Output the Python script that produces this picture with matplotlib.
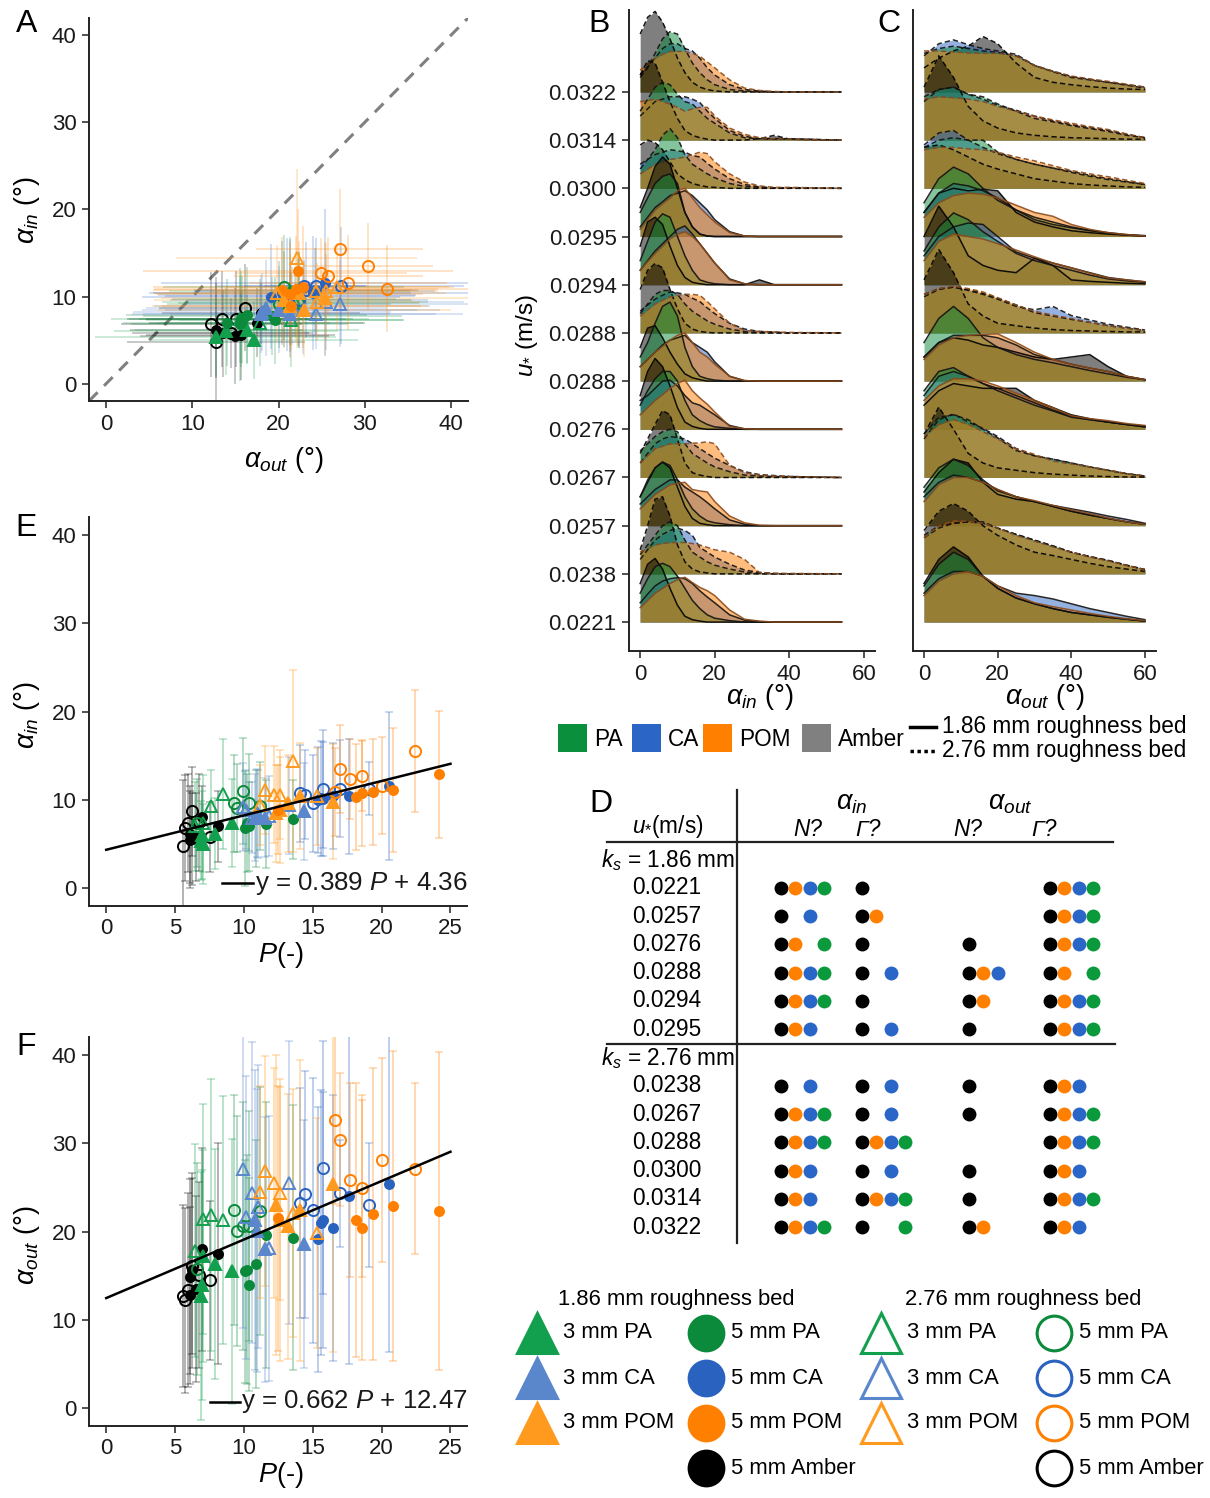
import numpy as np
import matplotlib.pyplot as plt
from matplotlib.patches import Rectangle

plt.rcParams['font.family'] = ['Liberation Sans', 'DejaVu Sans']
plt.rcParams['mathtext.fontset'] = 'custom'
plt.rcParams['mathtext.rm'] = 'Liberation Sans'
plt.rcParams['mathtext.it'] = 'Liberation Sans:italic'
plt.rcParams['mathtext.bf'] = 'Liberation Sans:bold'

# ─── Scatter data (per particle / bed) ───────────────────────────────────────
AMBER5_186 = dict(P=[6.05, 6.2, 6.5, 6.1, 6.95, 8.1],
                  ain=[6.1, 5.6, 5.8, 5.5, 8.1, 7.0], ain_sd=[5.5, 5.2, 5.0, 5.5, 3.5, 4.0],
                  aout=[12.8, 15.6, 13.5, 14.9, 18.0, 17.5], aout_sd=[10, 11, 10.5, 11, 11.5, 12.5])
AMBER5_276 = dict(P=[5.56, 5.73, 5.95, 6.24, 6.72, 7.55],
                  ain=[4.8, 6.8, 7.4, 8.7, 7.45, 5.8], ain_sd=[7.5, 6.0, 5.5, 5.0, 5.5, 4.0],
                  aout=[12.75, 12.2, 13.4, 16.1, 15.1, 14.5], aout_sd=[10.3, 10.5, 11, 10, 10.5, 9])
PA3_186 = dict(P=[6.9, 6.95, 7.0, 7.9, 9.15],
               ain=[5.4, 6.0, 5.0, 6.2, 7.4], ain_sd=[4.5, 5.0, 4.5, 4.0, 5.0],
               aout=[12.7, 13.9, 17.2, 16.3, 15.5], aout_sd=[14, 13, 12, 13, 15])
PA5_186 = dict(P=[10.1, 10.2, 10.35, 10.9, 11.6, 13.6],
               ain=[6.8, 7.4, 7.0, 7.9, 7.3, 7.8], ain_sd=[6.5, 5.5, 5.0, 5.5, 5.0, 4.5],
               aout=[15.5, 15.7, 14.0, 16.3, 19.6, 19.3], aout_sd=[12.6, 13, 12, 14, 15, 15])
PA3_276 = dict(P=[6.45, 7.0, 7.6, 8.5],
               ain=[7.0, 7.35, 9.35, 10.65], ain_sd=[5.0, 5.5, 4.0, 6.2],
               aout=[17.85, 21.4, 21.9, 21.3], aout_sd=[12, 13, 15.4, 14])
PA5_276 = dict(P=[6.6, 9.3, 9.5, 9.95, 10.35, 11.2],
               ain=[7.4, 9.6, 9.1, 11.05, 9.7, 9.3], ain_sd=[5.0, 5.5, 5.0, 6.0, 5.5, 5.0],
               aout=[15.8, 22.4, 20.1, 20.6, 20.6, 22.3], aout_sd=[12, 13, 13, 14, 13, 14])
CA3_186 = dict(P=[10.8, 10.95, 11.5, 14.35],
               ain=[8.0, 8.5, 8.0, 8.7], ain_sd=[4.9, 5.0, 4.5, 5.5],
               aout=[21.3, 20.1, 18.0, 18.6], aout_sd=[17, 16, 15, 14])
CA5_186 = dict(P=[15.4, 15.6, 15.75, 16.5, 17.65, 20.5],
               ain=[10.0, 10.2, 10.1, 10.4, 10.4, 11.6], ain_sd=[6.0, 6.5, 6.5, 6.0, 6.5, 8.4],
               aout=[19.1, 21.0, 21.3, 20.4, 24.0, 25.4], aout_sd=[15, 15, 14.5, 15, 19, 19])
CA3_276 = dict(P=[9.9, 10.15, 10.6, 11.0, 11.85, 13.3],
               ain=[9.2, 8.9, 8.0, 8.4, 8.2, 9.4], ain_sd=[5.0, 4.5, 4.0, 5.0, 4.5, 5.5],
               aout=[27.1, 21.6, 24.4, 22.8, 18.1, 25.5], aout_sd=[18, 16, 17, 16, 15, 16])
CA5_276 = dict(P=[14.05, 14.45, 15.05, 15.75, 16.95, 19.05],
               ain=[10.75, 10.6, 9.6, 11.25, 11.25, 11.25], ain_sd=[5.5, 5.0, 5.5, 6.7, 5.5, 3.0],
               aout=[23.2, 24.2, 22.4, 27.2, 24.3, 23.0], aout_sd=[13, 14, 15, 14.3, 6, 7])
POM3_186 = dict(P=[12.3, 12.6, 13.2, 14.1, 16.45],
                ain=[8.5, 8.9, 9.6, 10.4, 9.8], ain_sd=[5.5, 6.0, 5.5, 6.0, 6.5],
                aout=[23.0, 21.3, 20.6, 22.4, 25.4], aout_sd=[17, 16, 15, 17, 19])
POM5_186 = dict(P=[12.5, 18.15, 18.55, 19.4, 20.8, 24.2],
                ain=[8.9, 10.3, 10.8, 10.9, 11.1, 12.9], ain_sd=[5.0, 6.0, 6.0, 6.0, 7.0, 7.2],
                aout=[21.5, 21.3, 20.45, 22.0, 22.9, 22.3], aout_sd=[15, 15.5, 15, 16.5, 17.5, 18])
POM3_276 = dict(P=[11.2, 11.55, 12.15, 12.6, 13.55, 15.3],
                ain=[9.4, 11.1, 10.6, 10.6, 14.4, 10.4], ain_sd=[4.5, 5.0, 5.5, 5.0, 10.3, 5.5],
                aout=[24.5, 26.8, 25.5, 24.3, 22.1, 19.8], aout_sd=[12, 13, 13, 12, 14, 13])
POM5_276 = dict(P=[16.6, 16.95, 17.7, 18.55, 20.0, 22.4],
                ain=[10.9, 13.5, 12.35, 12.7, 11.6, 15.5], ain_sd=[5.0, 5.0, 4.5, 4.0, 5.5, 6.9],
                aout=[32.6, 30.4, 25.8, 24.9, 28.1, 27.1], aout_sd=[9.5, 7.5, 11, 10, 11.5, 9.7])

FIT_E = (0.389, 4.36)
FIT_F = (0.662, 12.47)

# ─── Ridge densities (height in row-spacing units) ───────────────────────────
U_LABELS = ['0.0221', '0.0238', '0.0257', '0.0267', '0.0276', '0.0288',
            '0.0288', '0.0294', '0.0295', '0.0300', '0.0314', '0.0322']
BED = ['1.86', '2.76', '1.86', '2.76', '1.86', '1.86',
       '2.76', '1.86', '1.86', '2.76', '2.76', '2.76']

B_X = [0, 2, 4, 6, 8, 10, 12, 14, 16, 18, 20, 24, 28, 32, 36, 40, 54]
B_AMBER = [
    [0.8, 1.2, 1.32, 1.1, 0.7, 0.35, 0.12, 0.05, 0.02, 0, 0, 0, 0, 0, 0, 0, 0],
    [0.5, 1.0, 1.55, 1.6, 1.2, 0.6, 0.25, 0.1, 0.04, 0.02, 0, 0, 0, 0, 0, 0, 0],
    [0.6, 0.9, 1.2, 1.32, 1.2, 0.8, 0.4, 0.15, 0.05, 0.02, 0, 0, 0, 0, 0, 0, 0],
    [0.5, 0.8, 1.1, 1.39, 1.3, 0.8, 0.3, 0.1, 0.05, 0.02, 0, 0, 0, 0, 0, 0, 0],
    [0.7, 1.2, 1.47, 1.3, 0.9, 0.45, 0.15, 0.06, 0.02, 0, 0, 0, 0, 0, 0, 0, 0],
    [0.7, 1.1, 1.15, 0.9, 0.6, 0.35, 0.15, 0.07, 0.03, 0, 0, 0, 0, 0, 0, 0, 0],
    [0.9, 1.3, 1.44, 1.35, 0.9, 0.5, 0.2, 0.08, 0.03, 0.01, 0, 0, 0, 0, 0, 0, 0],
    [0.8, 1.3, 1.4, 1.25, 0.8, 0.4, 0.15, 0.05, 0.02, 0, 0, 0, 0, 0.1, 0, 0, 0],
    [0.6, 1.0, 1.45, 1.65, 1.5, 1.0, 0.5, 0.2, 0.05, 0.01, 0, 0, 0, 0, 0, 0, 0],
    [0.9, 1.0, 0.95, 0.8, 0.55, 0.3, 0.18, 0.1, 0.06, 0.03, 0.02, 0, 0, 0, 0, 0, 0],
    [1.35, 1.65, 1.6, 1.2, 0.8, 0.45, 0.2, 0.1, 0.05, 0.02, 0, 0, 0, 0.03, 0.1, 0.02, 0],
    [1.2, 1.55, 1.67, 1.45, 1.1, 0.7, 0.4, 0.2, 0.1, 0.05, 0.02, 0, 0, 0, 0, 0, 0],
]
B_PA = [
    [0.6, 0.9, 1.15, 1.22, 1.15, 0.95, 0.7, 0.45, 0.28, 0.15, 0.08, 0.03, 0, 0, 0, 0, 0],
    [0.4, 0.6, 0.8, 1.0, 1.08, 1.0, 0.7, 0.45, 0.35, 0.25, 0.18, 0.1, 0.04, 0.01, 0, 0, 0],
    [0.6, 0.95, 1.2, 1.32, 1.25, 0.95, 0.6, 0.35, 0.2, 0.1, 0.06, 0.02, 0, 0, 0, 0, 0],
    [0.55, 0.7, 0.85, 0.95, 1.0, 0.95, 0.7, 0.5, 0.4, 0.3, 0.22, 0.12, 0.05, 0.03, 0.02, 0.02, 0],
    [0.5, 0.8, 1.05, 1.2, 1.2, 1.0, 0.6, 0.3, 0.18, 0.1, 0.05, 0.02, 0, 0, 0, 0, 0],
    [0.5, 0.8, 1.2, 1.55, 1.64, 1.35, 0.7, 0.3, 0.1, 0.05, 0.02, 0, 0, 0, 0, 0, 0],
    [0.4, 0.6, 0.8, 0.88, 0.88, 0.8, 0.6, 0.45, 0.35, 0.25, 0.18, 0.08, 0.03, 0.01, 0, 0, 0],
    [0.5, 0.9, 1.3, 1.47, 1.4, 1.0, 0.6, 0.3, 0.1, 0.05, 0.02, 0, 0, 0, 0, 0, 0],
    [0.5, 0.8, 1.1, 1.25, 1.3, 1.1, 0.5, 0.2, 0.05, 0.01, 0, 0, 0, 0, 0, 0, 0],
    [0.4, 0.6, 0.8, 1.1, 1.24, 1.05, 0.7, 0.5, 0.4, 0.3, 0.22, 0.1, 0.04, 0.02, 0.01, 0.01, 0],
    [0.6, 0.85, 1.1, 1.2, 1.15, 0.95, 0.8, 0.75, 0.6, 0.45, 0.35, 0.15, 0.05, 0.03, 0.03, 0.03, 0],
    [0.3, 0.5, 0.8, 1.1, 1.25, 1.2, 0.9, 0.6, 0.4, 0.25, 0.15, 0.05, 0.02, 0, 0, 0, 0],
]
B_CA = [
    [0.4, 0.58, 0.75, 0.85, 0.9, 0.92, 0.9, 0.8, 0.65, 0.52, 0.4, 0.15, 0.04, 0.01, 0, 0, 0],
    [0.3, 0.5, 0.7, 0.82, 0.9, 0.95, 0.9, 0.8, 0.55, 0.45, 0.35, 0.2, 0.08, 0.03, 0.01, 0, 0],
    [0.45, 0.6, 0.75, 0.85, 0.95, 0.95, 0.8, 0.7, 0.6, 0.48, 0.35, 0.12, 0.03, 0, 0, 0, 0],
    [0.3, 0.5, 0.7, 0.8, 0.85, 0.83, 0.8, 0.7, 0.6, 0.5, 0.4, 0.25, 0.12, 0.06, 0.04, 0.02, 0],
    [0.6, 0.7, 0.85, 1.0, 1.02, 0.9, 0.7, 0.55, 0.5, 0.4, 0.3, 0.08, 0.01, 0, 0, 0, 0],
    [0.3, 0.45, 0.6, 0.75, 0.85, 0.9, 0.95, 0.8, 0.7, 0.6, 0.4, 0.1, 0.01, 0, 0, 0, 0],
    [0.45, 0.58, 0.7, 0.78, 0.85, 0.83, 0.8, 0.72, 0.65, 0.52, 0.4, 0.2, 0.08, 0.03, 0.02, 0, 0],
    [0.3, 0.5, 0.7, 0.85, 1.0, 1.15, 1.22, 1.05, 0.85, 0.65, 0.45, 0.12, 0.02, 0, 0, 0, 0],
    [0.2, 0.4, 0.6, 0.72, 0.85, 0.9, 0.95, 0.85, 0.7, 0.55, 0.35, 0.1, 0.01, 0, 0, 0, 0],
    [0.5, 0.6, 0.7, 0.75, 0.8, 0.78, 0.75, 0.68, 0.65, 0.52, 0.4, 0.2, 0.08, 0.03, 0.01, 0.01, 0],
    [0.5, 0.65, 0.8, 0.85, 0.9, 0.9, 0.9, 0.85, 0.78, 0.6, 0.45, 0.2, 0.08, 0.03, 0.02, 0.02, 0],
    [0.35, 0.52, 0.7, 0.9, 1.0, 1.0, 0.9, 0.85, 0.7, 0.5, 0.35, 0.15, 0.05, 0.02, 0, 0, 0],
]
B_POM = [
    [0.3, 0.45, 0.6, 0.7, 0.8, 0.88, 0.93, 0.82, 0.72, 0.65, 0.55, 0.25, 0.06, 0.02, 0, 0, 0],
    [0.45, 0.52, 0.6, 0.63, 0.65, 0.65, 0.65, 0.63, 0.6, 0.55, 0.5, 0.45, 0.3, 0.03, 0.01, 0.01, 0],
    [0.35, 0.5, 0.65, 0.75, 0.85, 0.88, 0.9, 0.75, 0.72, 0.7, 0.5, 0.2, 0.06, 0.01, 0, 0, 0],
    [0.3, 0.45, 0.6, 0.65, 0.7, 0.7, 0.7, 0.71, 0.72, 0.74, 0.7, 0.25, 0.1, 0.05, 0.03, 0.02, 0],
    [0.3, 0.45, 0.6, 0.72, 0.85, 0.95, 1.02, 0.8, 0.65, 0.52, 0.36, 0.06, 0.01, 0, 0, 0, 0],
    [0.3, 0.45, 0.6, 0.72, 0.85, 0.95, 1.0, 0.8, 0.6, 0.5, 0.35, 0.1, 0.01, 0, 0, 0, 0],
    [0.35, 0.48, 0.6, 0.68, 0.75, 0.78, 0.8, 0.8, 0.78, 0.65, 0.5, 0.2, 0.05, 0.03, 0.02, 0.01, 0],
    [0.3, 0.48, 0.65, 0.8, 0.95, 1.05, 1.1, 1.0, 0.85, 0.65, 0.45, 0.1, 0.02, 0, 0, 0, 0],
    [0.15, 0.35, 0.55, 0.68, 0.8, 0.95, 1.0, 0.8, 0.6, 0.45, 0.3, 0.08, 0.01, 0, 0, 0, 0],
    [0.3, 0.4, 0.5, 0.55, 0.6, 0.62, 0.65, 0.7, 0.75, 0.72, 0.55, 0.3, 0.13, 0.05, 0.02, 0.02, 0],
    [0.8, 0.82, 0.85, 0.8, 0.75, 0.68, 0.6, 0.65, 0.68, 0.68, 0.5, 0.25, 0.12, 0.05, 0.03, 0.02, 0],
    [0.45, 0.58, 0.7, 0.78, 0.84, 0.84, 0.84, 0.8, 0.74, 0.62, 0.5, 0.25, 0.08, 0.03, 0.01, 0, 0],
]

C_X = [0, 4, 8, 12, 16, 20, 25, 30, 35, 40, 45, 50, 55, 60]
C_AMBER = [
    [0.8, 1.3, 1.56, 1.35, 0.95, 0.7, 0.5, 0.38, 0.28, 0.2, 0.15, 0.1, 0.06, 0.02],
    [0.9, 1.3, 1.46, 1.3, 1.0, 0.8, 0.6, 0.45, 0.38, 0.3, 0.22, 0.15, 0.1, 0.05],
    [0.7, 1.1, 1.38, 1.3, 0.9, 0.65, 0.55, 0.5, 0.4, 0.3, 0.22, 0.15, 0.08, 0.03],
    [0.9, 1.46, 1.0, 0.5, 0.3, 0.2, 0.15, 0.1, 0.07, 0.05, 0.03, 0.02, 0.01, 0.01],
    [0.5, 0.8, 0.95, 0.9, 0.85, 0.85, 0.85, 0.6, 0.45, 0.3, 0.22, 0.15, 0.1, 0.05],
    [0.5, 0.8, 0.9, 0.85, 0.75, 0.7, 0.6, 0.5, 0.45, 0.5, 0.55, 0.3, 0.1, 0.03],
    [1.1, 1.73, 1.25, 0.6, 0.35, 0.2, 0.15, 0.1, 0.07, 0.05, 0.04, 0.03, 0.02, 0.02],
    [1.0, 1.63, 1.2, 0.6, 0.4, 0.3, 0.25, 0.55, 0.4, 0.1, 0.07, 0.05, 0.03, 0.02],
    [0.5, 0.9, 1.0, 0.95, 0.98, 0.95, 0.5, 0.3, 0.2, 0.12, 0.08, 0.05, 0.03, 0.01],
    [0.85, 0.9, 0.8, 0.65, 0.5, 0.4, 0.3, 0.2, 0.15, 0.1, 0.07, 0.05, 0.03, 0.02],
    [1.1, 1.75, 1.3, 0.7, 0.4, 0.25, 0.15, 0.1, 0.07, 0.05, 0.04, 0.03, 0.02, 0.02],
    [0.5, 0.7, 0.85, 0.95, 1.15, 1.0, 0.6, 0.3, 0.2, 0.15, 0.11, 0.08, 0.06, 0.05],
]
C_PA = [
    [0.75, 1.2, 1.45, 1.3, 0.95, 0.7, 0.5, 0.38, 0.28, 0.2, 0.15, 0.1, 0.06, 0.02],
    [0.8, 1.0, 1.05, 1.08, 1.05, 0.95, 0.82, 0.7, 0.58, 0.45, 0.36, 0.28, 0.18, 0.09],
    [0.8, 1.2, 1.38, 1.25, 0.95, 0.72, 0.6, 0.5, 0.4, 0.3, 0.22, 0.15, 0.08, 0.03],
    [0.9, 1.25, 1.3, 1.2, 1.0, 0.82, 0.56, 0.45, 0.38, 0.3, 0.22, 0.15, 0.08, 0.03],
    [0.8, 1.2, 1.28, 1.1, 0.95, 0.8, 0.65, 0.5, 0.38, 0.25, 0.2, 0.15, 0.1, 0.05],
    [0.8, 1.3, 1.55, 1.3, 0.9, 0.7, 0.55, 0.45, 0.38, 0.3, 0.22, 0.15, 0.08, 0.03],
    [0.8, 0.92, 0.95, 0.9, 0.82, 0.72, 0.58, 0.42, 0.35, 0.28, 0.22, 0.15, 0.1, 0.05],
    [0.7, 1.2, 1.49, 1.35, 1.1, 0.9, 0.65, 0.5, 0.4, 0.3, 0.2, 0.12, 0.08, 0.05],
    [0.7, 1.2, 1.44, 1.3, 1.0, 0.75, 0.55, 0.4, 0.3, 0.2, 0.13, 0.08, 0.04, 0.02],
    [0.85, 1.0, 1.05, 1.0, 1.0, 0.75, 0.6, 0.5, 0.42, 0.35, 0.27, 0.2, 0.14, 0.08],
    [0.9, 1.05, 1.1, 0.95, 0.9, 0.75, 0.6, 0.45, 0.38, 0.3, 0.24, 0.18, 0.1, 0.05],
    [0.8, 0.9, 0.95, 0.9, 0.85, 0.82, 0.75, 0.55, 0.42, 0.3, 0.25, 0.2, 0.14, 0.08],
]
C_CA = [
    [0.6, 0.9, 1.05, 1.05, 0.95, 0.75, 0.6, 0.55, 0.48, 0.38, 0.28, 0.2, 0.12, 0.05],
    [0.75, 0.95, 1.05, 1.08, 1.08, 0.95, 0.82, 0.7, 0.58, 0.45, 0.36, 0.28, 0.18, 0.09],
    [0.6, 0.9, 1.05, 1.0, 0.9, 0.75, 0.6, 0.5, 0.42, 0.35, 0.28, 0.2, 0.13, 0.05],
    [0.8, 1.2, 1.32, 1.15, 1.02, 0.85, 0.6, 0.45, 0.38, 0.3, 0.22, 0.15, 0.08, 0.03],
    [0.7, 1.1, 1.2, 1.1, 0.95, 0.85, 0.7, 0.55, 0.4, 0.27, 0.2, 0.15, 0.1, 0.07],
    [0.5, 0.8, 0.95, 0.95, 0.95, 0.9, 0.75, 0.55, 0.45, 0.35, 0.27, 0.2, 0.1, 0.03],
    [0.75, 0.9, 0.95, 0.88, 0.8, 0.7, 0.55, 0.48, 0.55, 0.36, 0.27, 0.18, 0.12, 0.06],
    [0.6, 1.0, 1.2, 1.28, 1.25, 1.0, 0.68, 0.55, 0.45, 0.35, 0.25, 0.15, 0.1, 0.06],
    [0.5, 0.9, 1.1, 1.05, 0.95, 0.8, 0.55, 0.35, 0.25, 0.18, 0.12, 0.07, 0.03, 0.01],
    [0.9, 1.15, 1.2, 1.0, 0.85, 0.72, 0.6, 0.5, 0.42, 0.33, 0.25, 0.18, 0.13, 0.08],
    [0.8, 1.05, 1.1, 0.95, 0.85, 0.72, 0.62, 0.5, 0.4, 0.32, 0.26, 0.2, 0.12, 0.05],
    [0.75, 1.0, 1.08, 0.98, 0.9, 0.85, 0.78, 0.55, 0.43, 0.32, 0.26, 0.2, 0.15, 0.1],
]
C_POM = [
    [0.55, 0.85, 1.0, 1.05, 0.95, 0.75, 0.55, 0.4, 0.32, 0.25, 0.18, 0.12, 0.07, 0.03],
    [0.75, 1.0, 1.1, 1.09, 1.05, 0.95, 0.8, 0.68, 0.56, 0.45, 0.35, 0.27, 0.18, 0.09],
    [0.5, 0.85, 1.0, 1.0, 0.9, 0.75, 0.6, 0.52, 0.42, 0.33, 0.25, 0.16, 0.08, 0.03],
    [0.85, 1.1, 1.2, 1.1, 0.95, 0.8, 0.6, 0.48, 0.34, 0.28, 0.22, 0.15, 0.08, 0.03],
    [0.6, 0.9, 1.05, 1.05, 1.0, 0.9, 0.75, 0.6, 0.45, 0.28, 0.22, 0.18, 0.12, 0.08],
    [0.45, 0.75, 0.9, 0.95, 0.97, 0.98, 0.8, 0.6, 0.45, 0.35, 0.27, 0.2, 0.1, 0.03],
    [0.8, 0.92, 0.97, 0.92, 0.85, 0.73, 0.58, 0.45, 0.37, 0.3, 0.22, 0.15, 0.1, 0.05],
    [0.5, 0.9, 1.05, 1.0, 0.95, 0.85, 0.72, 0.58, 0.45, 0.35, 0.24, 0.14, 0.1, 0.06],
    [0.4, 0.7, 0.85, 0.9, 0.88, 0.8, 0.65, 0.5, 0.42, 0.25, 0.15, 0.08, 0.04, 0.01],
    [0.8, 0.85, 0.85, 0.82, 0.8, 0.75, 0.65, 0.57, 0.47, 0.37, 0.3, 0.24, 0.17, 0.1],
    [0.85, 0.9, 0.88, 0.85, 0.8, 0.7, 0.6, 0.5, 0.42, 0.35, 0.28, 0.22, 0.13, 0.05],
    [0.85, 0.85, 0.83, 0.81, 0.8, 0.8, 0.75, 0.55, 0.43, 0.33, 0.27, 0.22, 0.16, 0.1],
]

# ─── Table D (K=Amber, O=POM, B=CA, G=PA; '.' = no) ──────────────────────────
D_U_186 = ['0.0221', '0.0257', '0.0276', '0.0288', '0.0294', '0.0295']
D_U_276 = ['0.0238', '0.0267', '0.0288', '0.0300', '0.0314', '0.0322']
D_186 = [  # N? a_in, G? a_in, N? a_out, G? a_out
    ['KOBG', 'K.B.', 'KO.G', 'KOBG', 'KOBG', 'KOB.'],
    ['K...', 'KO..', 'K...', 'K.B.', 'K...', 'K.B.'],
    ['....', '....', 'K...', 'KOB.', 'KO..', 'K...'],
    ['KOBG', 'KOBG', 'KOBG', 'KO.G', 'KOBG', 'KOBG'],
]
D_276 = [
    ['K.B.', 'KOBG', 'KOBG', 'KOB.', 'KOB.', 'KOBG'],
    ['K.B.', 'K.B.', 'KOBG', 'K.B.', 'KOBG', 'K..G'],
    ['K...', 'K...', '....', 'K...', 'K...', 'KO..'],
    ['KOB.', 'KOBG', 'KOBG', 'KOB.', 'KOBG', 'KOB.'],
]

# ─── Colours ─────────────────────────────────────────────────────────────────
GREEN5, GREEN3 = '#0A8A3A', '#13A04E'
BLUE5, BLUE3 = '#2A62C0', '#5A86CC'
ORANGE5, ORANGE3 = '#FF7F00', '#FF9A1E'
BLACK = '#000000'
DOT = {'K': BLACK, 'O': '#FF7F00', 'B': '#2A66C8', 'G': '#0A9A3C'}
RIDGE_FILL = {'Amber': '#000000', 'CA': '#2B64C2', 'PA': '#0A8A3A', 'POM': '#FF7F00'}
RIDGE_EDGE = {'Amber': '#000000', 'CA': '#111111', 'PA': '#111111', 'POM': '#8B4A1A'}

SERIES = [
    (AMBER5_276, BLACK, 'o', False), (AMBER5_186, BLACK, 'o', True),
    (PA3_186, GREEN3, '^', True), (PA5_186, GREEN5, 'o', True),
    (PA3_276, GREEN3, '^', False), (PA5_276, GREEN5, 'o', False),
    (CA3_186, BLUE3, '^', True), (CA5_186, BLUE5, 'o', True),
    (CA3_276, BLUE3, '^', False), (CA5_276, BLUE5, 'o', False),
    (POM3_186, ORANGE3, '^', True), (POM5_186, ORANGE5, 'o', True),
    (POM3_276, ORANGE3, '^', False), (POM5_276, ORANGE5, 'o', False),
]

TICK = 16
TXT = 16.3
LAB = 19.5

W, H = 1210, 1498
fig = plt.figure(figsize=(W / 100, H / 100), dpi=100)


def px_axes(l, t, r, b):
    return fig.add_axes([l / W, 1 - b / H, (r - l) / W, (b - t) / H])


def style_axes(ax):
    for s in ['top', 'right']:
        ax.spines[s].set_visible(False)
    for s in ['left', 'bottom']:
        ax.spines[s].set_linewidth(1.4)
        ax.spines[s].set_color('#222222')
    ax.tick_params(direction='out', length=5, width=1.2, color='#333333',
                   labelsize=TICK, labelcolor='#1A1A1A', pad=4)
    ax.set_facecolor('none')


def marker_kw(color, marker, filled):
    if marker == 'o':
        ms = 6.5 if filled else 8
    else:
        ms = 8.5 if filled else 9
    return dict(marker=marker, ls='none', ms=ms, color=color,
                mfc=color if filled else 'none', mec=color, mew=1.4)


def scatter_panel(ax, xkey, ykey, xsd=None, ysd=None, caps=True):
    for d, c, m, f in SERIES:
        ax.errorbar(d[xkey], d[ykey], xerr=d[xsd] if xsd else None,
                    yerr=d[ysd] if ysd else None, fmt='none', ecolor=c,
                    alpha=0.22 if not caps else 0.3, elinewidth=1.4,
                    capsize=3 if caps else 0, capthick=1.2, zorder=2)
    for d, c, m, f in SERIES:
        ax.plot(d[xkey], d[ykey], zorder=4, **marker_kw(c, m, f))


# ─── Panel A ─────────────────────────────────────────────────────────────────
axA = px_axes(89, 18, 468, 401)
style_axes(axA)
scatter_panel(axA, 'aout', 'ain', xsd='aout_sd', ysd='ain_sd', caps=False)
axA.axline((0, 0), slope=1, color='#808080', lw=2.2, ls=(0, (4, 3)), zorder=1)
axA.set_xlim(-2, 42)
axA.set_ylim(-2, 42)
axA.set_xticks([0, 10, 20, 30, 40])
axA.set_yticks([0, 10, 20, 30, 40])


# ─── Panels E, F ─────────────────────────────────────────────────────────────
def fit_panel(ax, ykey, ysd, fit, key_x, key_y):
    style_axes(ax)
    scatter_panel(ax, 'P', ykey, ysd=ysd, caps=True)
    xs = np.array([0, 25])
    ax.plot(xs, fit[0] * xs + fit[1], color='black', lw=1.8, zorder=5)
    ax.set_xlim(-1.25, 26.2)
    ax.set_ylim(-2, 42)
    ax.set_xticks([0, 5, 10, 15, 20, 25])
    ax.set_yticks([0, 10, 20, 30, 40])
    ax.plot(key_x, [key_y, key_y], color='black', lw=1.8, transform=ax.transAxes,
            clip_on=False)
    ax.text(key_x[1] + 0.004, key_y, 'y = %.3f $P$ + %.2f' % fit, transform=ax.transAxes,
            ha='left', va='center', fontsize=18.6, color='#1A1A1A')


axE = px_axes(89, 517, 467, 906)
fit_panel(axE, 'ain', 'ain_sd', FIT_E, [0.352, 0.434], 0.058)
axF = px_axes(89, 1037, 467, 1426)
fit_panel(axF, 'aout', 'aout_sd', FIT_F, [0.320, 0.399], 0.062)


# ─── Panels B, C (ridgelines) ────────────────────────────────────────────────
def ridges(ax, xs, amber, pa, ca, pom):
    xs = np.array(xs, dtype=float)
    mats = [('Amber', amber), ('CA', ca), ('PA', pa), ('POM', pom)]
    for k in range(len(U_LABELS) - 1, -1, -1):
        base = k + 1
        ls = '-' if BED[k] == '1.86' else (0, (3.5, 2))
        z = 2 + (len(U_LABELS) - k) * 2
        for name, vals in mats:
            top = base + np.array(vals[k])
            ax.fill_between(xs, base, top, color=RIDGE_FILL[name], alpha=0.5,
                            lw=0, zorder=z)
            ax.plot(xs, top, color=RIDGE_EDGE[name], lw=1.1, ls=ls, alpha=0.9,
                    zorder=z + 1)
    ax.set_xlim(-3, 63)
    ax.set_ylim(0.4, 13.7)
    ax.set_xticks([0, 20, 40, 60])


axB = px_axes(629, 10, 875, 651)
style_axes(axB)
ridges(axB, B_X, B_AMBER, B_PA, B_CA, B_POM)
axB.set_yticks(range(1, len(U_LABELS) + 1))
axB.set_yticklabels(U_LABELS)

axC = px_axes(913, 10, 1156, 651)
style_axes(axC)
ridges(axC, C_X, C_AMBER, C_PA, C_CA, C_POM)
axC.set_yticks([])

# ─── Overlay: labels, legends, table ─────────────────────────────────────────
ov = fig.add_axes([0, 0, 1, 1], zorder=20)
ov.set_xlim(0, W)
ov.set_ylim(H, 0)
ov.axis('off')
ov.patch.set_visible(False)

for letter, x, y in [('A', 27, 24), ('B', 599, 24), ('C', 889, 24),
                     ('D', 601, 804), ('E', 26, 528), ('F', 26, 1047)]:
    ov.text(x, y, letter, fontsize=23, ha='center', va='center')

ov.text(284, 460, r'$\alpha_{out}$ (°)', fontsize=LAB, ha='center', va='center')
ov.text(27, 210, r'$\alpha_{in}$ (°)', fontsize=LAB, ha='center', va='center', rotation=90)
ov.text(281, 955, r'$P$(-)', fontsize=LAB, ha='center', va='center')
ov.text(27, 715, r'$\alpha_{in}$ (°)', fontsize=LAB, ha='center', va='center', rotation=90)
ov.text(281, 1475, r'$P$(-)', fontsize=LAB, ha='center', va='center')
ov.text(27, 1245, r'$\alpha_{out}$ (°)', fontsize=LAB, ha='center', va='center', rotation=90)
ov.text(760, 697, r'$\alpha_{in}$ (°)', fontsize=LAB, ha='center', va='center')
ov.text(1045, 697, r'$\alpha_{out}$ (°)', fontsize=LAB, ha='center', va='center')
ov.text(527, 335, r'$u_{*}$ (m/s)', fontsize=17.5, ha='center', va='center', rotation=90)

# fill legend under B/C
for name, col, x0 in [('PA', '#0A8F3C', 558), ('CA', '#2B66C6', 632),
                      ('POM', '#FF7F00', 703), ('Amber', '#808080', 802)]:
    ov.add_patch(Rectangle((x0, 724), 29, 28, color=col, lw=0))
    ov.text(x0 + 36, 739, name, fontsize=TXT, ha='left', va='center')
ov.plot([910, 936], [727, 727], color='black', lw=2.5)
ov.plot([910, 936], [751, 751], color='black', lw=2.5, ls=(0, (1, 1)))
ov.text(942, 726, '1.86 mm roughness bed', fontsize=TXT, ha='left', va='center')
ov.text(942, 750, '2.76 mm roughness bed', fontsize=TXT, ha='left', va='center')

# table D
ov.plot([737, 737], [790, 1243], color='#222222', lw=1.6)
ov.plot([607, 1113], [842, 842], color='#222222', lw=1.6)
ov.plot([607, 1115], [1044, 1044], color='#222222', lw=1.6)
ov.text(668, 827, r'$u_{*}$(m/s)', fontsize=TXT, ha='center', va='center')
ov.text(852, 803, r'$\alpha_{in}$', fontsize=LAB, ha='center', va='center')
ov.text(1010, 803, r'$\alpha_{out}$', fontsize=LAB, ha='center', va='center')
for x, s in [(808, 'N?'), (868, 'Γ?'), (968, 'N?'), (1044, 'Γ?')]:
    ov.text(x, 830, s, fontsize=TXT, ha='center', va='center', style='italic')
ov.text(668, 860, r'$k_s$ = 1.86 mm', fontsize=TXT, ha='center', va='center')
ov.text(668, 1058, r'$k_s$ = 2.76 mm', fontsize=TXT, ha='center', va='center')

COL_X = [781, 862, 969, 1050]
DOT_STEP = 14.3
for labels, cols, y0 in [(D_U_186, D_186, 888), (D_U_276, D_276, 1086)]:
    for i, lab in enumerate(labels):
        y = y0 + i * 28.2
        ov.text(667, y, lab, fontsize=TXT, ha='center', va='center')
        for j, col in enumerate(cols):
            for k, code in enumerate(col[i]):
                if code != '.':
                    ov.scatter(COL_X[j] + k * DOT_STEP, y, s=100, color=DOT[code], lw=0)

# bottom marker legend
LEG = 15.8
ov.text(558, 1299, '1.86 mm roughness bed', fontsize=LEG, ha='left', va='center')
ov.text(905, 1299, '2.76 mm roughness bed', fontsize=LEG, ha='left', va='center')
LEG_ROWS = [1333, 1378, 1423, 1468]
leg_items = [
    (537, 563, [(GREEN3, '3 mm PA'), (BLUE3, '3 mm CA'), (ORANGE3, '3 mm POM')], '^', True),
    (706, 731, [(GREEN5, '5 mm PA'), (BLUE5, '5 mm CA'), (ORANGE5, '5 mm POM'),
                (BLACK, '5 mm Amber')], 'o', True),
    (881, 907, [(GREEN3, '3 mm PA'), (BLUE3, '3 mm CA'), (ORANGE3, '3 mm POM')], '^', False),
    (1054, 1079, [(GREEN5, '5 mm PA'), (BLUE5, '5 mm CA'), (ORANGE5, '5 mm POM'),
                  (BLACK, '5 mm Amber')], 'o', False),
]
for mx, tx, items, mk, filled in leg_items:
    for (col, lab), y in zip(items, LEG_ROWS):
        ms = 29 if mk == '^' else 25
        ov.plot([mx], [y], marker=mk, ms=ms, color=col,
                mfc=col if filled else 'none', mec=col, mew=2.2, ls='none')
        ov.text(tx, y, lab, fontsize=LEG, ha='left', va='center')

fig.savefig('out.png', dpi=100)
